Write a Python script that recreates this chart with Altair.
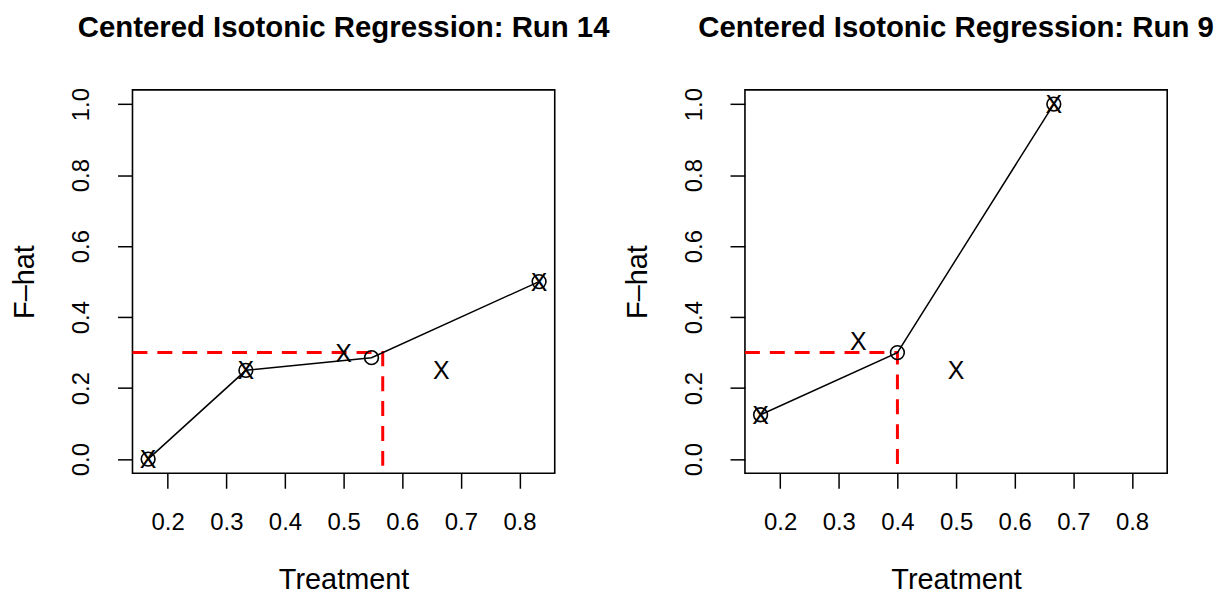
import altair as alt
import pandas as pd

FONT = "Liberation Sans"

# ---- data ----
# Run 14
run14_dose = [1/6, 1/3, 1/2, 2/3, 5/6]
run14_obs = [0.0, 0.25, 0.30, 0.25, 0.50]
run14_cir_x = [1/6, 1/3, 0.5476, 5/6]
run14_cir_y = [0.0, 0.25, 0.2857, 0.50]
run14_est = 0.5667

# Run 9
run9_dose = [1/6, 1/3, 1/2, 2/3]
run9_obs = [0.125, 0.3333, 0.25, 1.0]
run9_cir_x = [1/6, 0.4, 2/3]
run9_cir_y = [0.125, 0.30, 1.0]
run9_est = 0.40

TARGET = 0.3
X_LIM = [0.14, 0.86]
Y_LIM = [-0.04, 1.04]
X_TICKS = [0.2, 0.3, 0.4, 0.5, 0.6, 0.7, 0.8]
Y_TICKS = [0.0, 0.2, 0.4, 0.6, 0.8, 1.0]

W, H = 424, 385


def panel(title, dose, obs, cir_x, cir_y, est):
    xs = alt.Scale(domain=X_LIM, nice=False, zero=False)
    ys = alt.Scale(domain=Y_LIM, nice=False, zero=False)
    xax = alt.Axis(values=X_TICKS, format=".1f", title="Treatment", grid=False,
                   domain=False, tickSize=15, tickWidth=1.5, tickColor="black",
                   labelFont=FONT, labelFontSize=24, labelColor="black",
                   labelPadding=22, labelBaseline="top", labelOverlap=False,
                   labelFlush=False,
                   titleFont=FONT, titleFontSize=29, titleFontWeight="normal",
                   titleColor="black", titleBaseline="alphabetic",
                   titleAlign="center", titleX=W / 2, titleY=116)
    yax = alt.Axis(values=Y_TICKS, format=".1f", title="F–hat", grid=False,
                   domain=False, tickSize=15, tickWidth=1.5, tickColor="black",
                   labelFont=FONT, labelFontSize=24, labelColor="black",
                   labelAngle=270, labelAlign="center", labelBaseline="alphabetic",
                   labelPadding=29, labelOverlap=False, labelFlush=False,
                   titleFont=FONT, titleFontSize=29, titleFontWeight="normal",
                   titleColor="black", titleAngle=270, titleBaseline="alphabetic",
                   titleAlign="center", titleX=-99, titleY=H / 2)

    obs_df = pd.DataFrame({"x": dose, "y": obs})
    cir_df = pd.DataFrame({"x": cir_x, "y": cir_y})
    dash_df = pd.DataFrame({"x": [X_LIM[0], est, est],
                            "y": [TARGET, TARGET, Y_LIM[0]],
                            "i": [0, 1, 2]})

    enc = dict(x=alt.X("x:Q", scale=xs, axis=xax),
               y=alt.Y("y:Q", scale=ys, axis=yax))

    dash = alt.Chart(dash_df).mark_line(color="#FF0000", strokeWidth=3,
                                        strokeDash=[15, 10]).encode(
        order="i:Q", **enc)
    line = alt.Chart(cir_df).mark_line(color="black", strokeWidth=1.5).encode(**enc)
    circ = alt.Chart(cir_df).mark_point(shape="circle", filled=False, size=190,
                                        color="black", strokeWidth=1.6,
                                        opacity=1).encode(**enc)
    xs_txt = alt.Chart(obs_df).mark_text(text="X", font=FONT, fontSize=25,
                                         color="black", align="center",
                                         baseline="middle", dy=1).encode(**enc)

    return alt.layer(dash, line, circ, xs_txt).properties(
        width=W, height=H,
        title=alt.TitleParams(title, font=FONT, fontSize=29.5, fontWeight="bold",
                              color="black", anchor="middle", frame="group",
                              baseline="alphabetic", offset=21))


left = panel("Centered Isotonic Regression: Run 14", run14_dose, run14_obs,
             run14_cir_x, run14_cir_y, run14_est)
right = panel("Centered Isotonic Regression: Run 9", run9_dose, run9_obs,
              run9_cir_x, run9_cir_y, run9_est)

chart = alt.hconcat(left, right, spacing=191, bounds="flush").properties(
    padding={"left": 2, "top": 3, "right": 0, "bottom": 0},
    background="white",
).configure_view(stroke="black", strokeWidth=1.6)

chart.save("out.html", embed_options={"renderer": "svg", "actions": False})
